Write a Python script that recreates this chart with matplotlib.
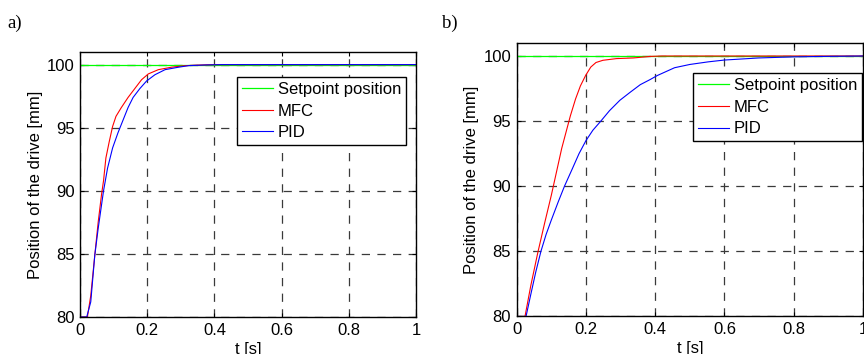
import matplotlib
matplotlib.use("Agg")
import matplotlib.pyplot as plt

plt.rcParams['font.family'] = ['Liberation Sans', 'DejaVu Sans']

# setpoint
t_set = [0.0, 1.0]
y_set = [100.0, 100.0]

# a) step response
t_mfc_a = [0, 0.022, 0.032, 0.044, 0.054, 0.064, 0.070, 0.077, 0.087, 0.097, 0.107,
           0.123, 0.143, 0.163, 0.183, 0.203, 0.233, 0.273, 0.314, 0.36, 0.40, 1.0]
y_mfc_a = [80, 80, 81.7, 84.9, 87.5, 89.7, 90.8, 92.6, 93.9, 95.1, 95.9,
           96.6, 97.4, 98.1, 98.8, 99.26, 99.6, 99.8, 99.92, 99.97, 100, 100]
t_pid_a = [0, 0.02, 0.032, 0.044, 0.054, 0.070, 0.082, 0.097, 0.113, 0.128, 0.143,
           0.158, 0.178, 0.198, 0.223, 0.253, 0.294, 0.324, 0.37, 0.42, 1.0]
y_pid_a = [80, 80, 81.2, 84.9, 87.0, 90.0, 91.8, 93.4, 94.6, 95.6, 96.6,
           97.4, 98.1, 98.7, 99.2, 99.6, 99.8, 99.92, 99.97, 100, 100]

# b) step response
t_mfc_b = [0, 0.024, 0.041, 0.061, 0.081, 0.1, 0.115, 0.13, 0.145, 0.155, 0.17,
           0.184, 0.199, 0.214, 0.229, 0.249, 0.288, 0.337, 0.386, 0.42, 1.0]
y_mfc_b = [80, 80, 82.4, 84.9, 87.2, 89.3, 91.1, 92.9, 94.4, 95.4, 96.7,
           97.7, 98.5, 99.15, 99.5, 99.67, 99.8, 99.85, 99.97, 100, 100]
t_pid_b = [0, 0.027, 0.04, 0.055, 0.07, 0.085, 0.1, 0.12, 0.138, 0.16, 0.18, 0.2,
           0.22, 0.243, 0.268, 0.298, 0.327, 0.357, 0.386, 0.406, 0.456, 0.5,
           0.553, 0.6, 0.699, 0.796, 0.89, 1.0]
y_pid_b = [80, 80, 81.6, 83.4, 85.0, 86.3, 87.4, 88.8, 90.0, 91.3, 92.5, 93.5,
           94.3, 95.0, 95.8, 96.6, 97.2, 97.8, 98.2, 98.5, 99.1, 99.35,
           99.55, 99.69, 99.85, 99.93, 99.97, 100]

xticks = [0, 0.2, 0.4, 0.6, 0.8, 1]
xticklabels = ['0', '0.2', '0.4', '0.6', '0.8', '1']
yticks = [80, 85, 90, 95, 100]
labels = ['Setpoint position', 'MFC', 'PID']

fig = plt.figure(figsize=(8.64, 3.54), dpi=100)
ax_a = fig.add_axes([0.0926, 0.1045, 0.389, 0.7486])
ax_b = fig.add_axes([0.598, 0.106, 0.4008, 0.7726])

panels = [
    (ax_a, t_mfc_a, y_mfc_a, t_pid_a, y_pid_a, (0.97, 0.906)),
    (ax_b, t_mfc_b, y_mfc_b, t_pid_b, y_pid_b, (0.997, 0.89)),
]

for ax, tm, ym, tp, yp, anchor in panels:
    ax.plot(t_set, y_set, color='#00ff00', lw=0.9, label=labels[0])
    ax.plot(tm, ym, color='#ff0000', lw=0.8, label=labels[1])
    ax.plot(tp, yp, color='#0000ff', lw=0.8, label=labels[2])
    ax.set_xlim(0, 1)
    ax.set_ylim(80, 101)
    ax.set_xticks(xticks)
    ax.set_xticklabels(xticklabels)
    ax.set_yticks(yticks)
    ax.tick_params(direction='in', top=True, right=True, length=3, width=0.8,
                   labelsize=12, pad=4)
    ax.grid(True, color='#3a3a3a', lw=0.9, linestyle=(0, (6.6, 5.9)))
    for sp in ax.spines.values():
        sp.set_linewidth(1.0)
    ax.set_xlabel('t [s]', fontsize=12, labelpad=3)
    ax.set_ylabel('Position of the drive [mm]', fontsize=12, labelpad=3)
    leg = ax.legend(loc='upper right', bbox_to_anchor=anchor, borderaxespad=0,
                    fontsize=12, handlelength=1.86, handletextpad=0.26,
                    labelspacing=0.4, borderpad=0.3, fancybox=False,
                    framealpha=1, edgecolor='k')
    leg.get_frame().set_linewidth(1.0)

fig.text(0.008, 0.935, 'a)', family='Liberation Serif', fontsize=13.5, va='center')
fig.text(0.511, 0.935, 'b)', family='Liberation Serif', fontsize=13.5, va='center')

fig.savefig('out.png', dpi=100)
